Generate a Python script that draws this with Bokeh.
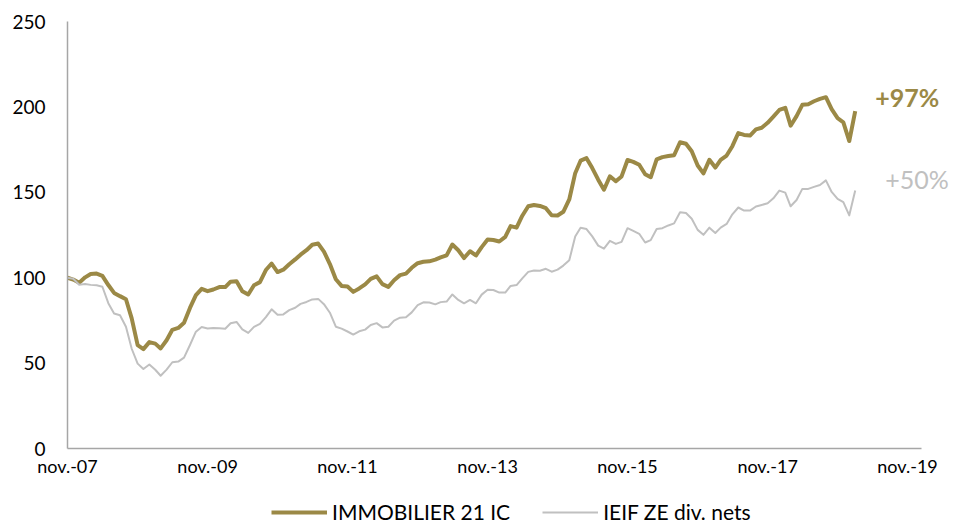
import pandas as pd
from bokeh.plotting import figure
from bokeh.layouts import column
from bokeh.models import (Range1d, FixedTicker, CustomJSTickFormatter, Legend,
                          LegendItem, Label)
from bokeh.embed import file_html
from bokeh.resources import INLINE

# ---------------- data (monthly, base 100 in Nov. 2007) ----------------
start_month = "2007-11-01"

immobilier_21_ic = [
    100.0, 98.9, 97.1, 100.2, 102.2, 102.4, 101.1, 95.7, 91.1, 89.2,
    87.4, 76.2, 60.5, 58.2, 62.3, 61.4, 58.6, 63.4, 69.5, 70.6,
    73.6, 82.3, 89.8, 93.5, 92.1, 93.1, 94.5, 94.5, 97.7, 97.9,
    92.1, 90.2, 95.6, 97.4, 104.5, 108.3, 103.3, 104.7, 107.9, 110.7,
    113.5, 116.1, 119.3, 120.0, 115.3, 108.0, 99.1, 95.2, 94.8, 91.7,
    93.7, 96.1, 99.3, 100.8, 96.2, 94.6, 98.5, 101.5, 102.4, 105.8,
    108.5, 109.3, 109.6, 110.6, 111.9, 113.1, 119.4, 116.1, 111.5, 115.5,
    113.0, 117.9, 122.3, 122.1, 121.2, 123.9, 130.2, 129.3, 136.3, 141.8,
    142.6, 142.0, 140.7, 136.6, 136.4, 138.6, 145.8, 161.2, 168.5, 170.0,
    164.2, 157.4, 151.5, 159.4, 156.5, 159.3, 168.9, 167.8, 166.1, 160.6,
    158.8, 169.3, 170.6, 171.2, 171.7, 179.3, 178.4, 174.0, 165.7, 161.1,
    169.0, 164.5, 169.0, 171.5, 177.0, 184.7, 183.6, 183.2, 186.8, 187.8,
    190.7, 194.3, 198.2, 199.5, 189.0, 194.6, 201.2, 201.6, 203.3, 204.7,
    205.7, 198.7, 193.4, 191.0, 180.0, 197.5,
]

ieif_ze_div_nets = [
    100.0, 99.4, 95.9, 96.3, 95.8, 95.6, 94.7, 85.1, 79.0, 78.0,
    71.3, 58.4, 49.7, 46.5, 49.2, 46.1, 42.6, 46.2, 50.5, 50.9,
    53.2, 60.6, 68.4, 71.1, 70.3, 70.6, 70.4, 70.1, 73.3, 74.1,
    69.8, 67.7, 71.2, 73.0, 76.9, 81.5, 78.3, 78.5, 81.0, 82.4,
    84.7, 85.8, 87.3, 87.6, 84.5, 79.5, 71.3, 70.2, 68.5, 66.7,
    68.6, 69.6, 72.3, 73.4, 70.9, 71.3, 74.9, 76.6, 76.9, 79.7,
    83.9, 85.6, 85.5, 84.4, 85.7, 86.0, 90.2, 87.0, 85.0, 87.0,
    85.0, 90.1, 92.9, 92.8, 91.3, 91.3, 95.2, 95.7, 99.6, 103.4,
    104.2, 104.1, 105.2, 103.5, 104.7, 107.1, 110.2, 124.1, 129.3, 128.5,
    124.2, 118.8, 117.0, 121.6, 119.8, 121.0, 129.0, 127.4, 125.7, 120.6,
    122.0, 128.5, 129.0, 130.6, 131.8, 138.3, 137.9, 134.5, 128.0, 125.1,
    129.3, 126.2, 129.3, 131.5, 137.1, 141.1, 139.3, 139.3, 141.7, 142.6,
    143.6, 146.5, 151.0, 149.8, 141.8, 145.5, 152.0, 152.0, 153.2, 154.3,
    157.0, 150.2, 146.2, 144.3, 136.5, 151.0,
]

series_names = ["IMMOBILIER 21 IC", "IEIF ZE div. nets"]
end_labels = ["+97%", "+50%"]

tick_dates = ["2007-11-01", "2009-11-01", "2011-11-01", "2013-11-01",
              "2015-11-01", "2017-11-01", "2019-11-01"]
tick_labels = ["nov.-07", "nov.-09", "nov.-11", "nov.-13",
               "nov.-15", "nov.-17", "nov.-19"]
y_ticks = [0, 50, 100, 150, 200, 250]
x_axis_end = "2020-01-13"      # where the drawn axis line stops
x_view_end = "2020-07-03"      # extra room on the right for the end labels

# ---------------- styling ----------------
GOLD = "#9B8946"
GREY = "#C0C0C0"
AXIS = "#A6A6A6"
FONT = "Lato"
W = 954

dates = pd.date_range(start_month, periods=len(immobilier_21_ic), freq="MS")
tick_ms = [int(pd.Timestamp(d).value // 10**6) for d in tick_dates]

p = figure(width=W, height=480, x_axis_type="datetime",
           output_backend="svg", toolbar_location=None,
           x_range=Range1d(pd.Timestamp(start_month), pd.Timestamp(x_view_end)),
           y_range=Range1d(0, 250),
           min_border_left=67, min_border_right=0,
           min_border_top=21, min_border_bottom=32)
p.outline_line_color = None
p.xgrid.visible = False
p.ygrid.visible = False
p.background_fill_color = "white"
p.border_fill_color = "white"

r1 = p.line(dates, immobilier_21_ic, line_color=GOLD, line_width=4,
            line_join="round")
r2 = p.line(dates, ieif_ze_div_nets, line_color=GREY, line_width=2,
            line_join="round")

# axes
p.xaxis.ticker = FixedTicker(ticks=tick_ms)
p.xaxis.bounds = (pd.Timestamp(start_month), pd.Timestamp(x_axis_end))
p.xaxis.formatter = CustomJSTickFormatter(
    args=dict(tick_vals=tick_ms, tick_names=tick_labels),
    code="""
    for (let i = 0; i < tick_vals.length; i++) {
        if (Math.abs(tick_vals[i] - tick) < 1000) { return tick_names[i]; }
    }
    return '';
    """)
p.yaxis.ticker = FixedTicker(ticks=y_ticks)
for ax in (p.xaxis, p.yaxis):
    ax.axis_line_color = AXIS
    ax.axis_line_width = 1.5
    ax.major_tick_line_color = None
    ax.minor_tick_line_color = None
    ax.major_tick_out = 0
    ax.major_tick_in = 0
    ax.major_label_text_font = FONT
    ax.major_label_text_color = "#000000"
p.xaxis.major_label_text_font_size = "18px"
p.yaxis.major_label_text_font_size = "19px"
p.xaxis.major_label_standoff = 6
p.yaxis.major_label_standoff = 22

# end labels
p.add_layout(Label(x=dates[-1], y=immobilier_21_ic[-1], text=end_labels[0],
                   x_offset=20, y_offset=14, text_baseline="middle",
                   text_font=FONT, text_font_size="25px",
                   text_font_style="bold", text_color=GOLD))
p.add_layout(Label(x=dates[-1], y=ieif_ze_div_nets[-1], text=end_labels[1],
                   x_offset=30, y_offset=12, text_baseline="middle",
                   text_font=FONT, text_font_size="25px",
                   text_color=GREY))

# ---------------- legend strip below the chart ----------------
leg = figure(width=W, height=44, output_backend="svg", toolbar_location=None,
             x_range=Range1d(0, 1), y_range=Range1d(0, 1),
             min_border_left=0, min_border_right=0,
             min_border_top=0, min_border_bottom=0)
leg.axis.visible = False
leg.grid.visible = False
leg.outline_line_color = None
leg.background_fill_color = "white"
leg.border_fill_color = "white"
# same series (outside this strip's view), used only for the legend swatches
l1 = leg.line(dates, immobilier_21_ic, line_color=GOLD, line_width=4)
l2 = leg.line(dates, ieif_ze_div_nets, line_color=GREY, line_width=2)

legend = Legend(items=[LegendItem(label=series_names[0], renderers=[l1]),
                       LegendItem(label=series_names[1], renderers=[l2])],
                orientation="horizontal", location=(204, 0),
                glyph_width=56, glyph_height=20, label_standoff=5,
                spacing=32, padding=0, margin=0,
                border_line_color=None, background_fill_alpha=0,
                label_text_font=FONT, label_text_font_size="21px",
                label_text_color="#000000")
leg.add_layout(legend, "center")

page = column(p, leg, spacing=0)
open("out.html", "w").write(file_html(page, INLINE))
